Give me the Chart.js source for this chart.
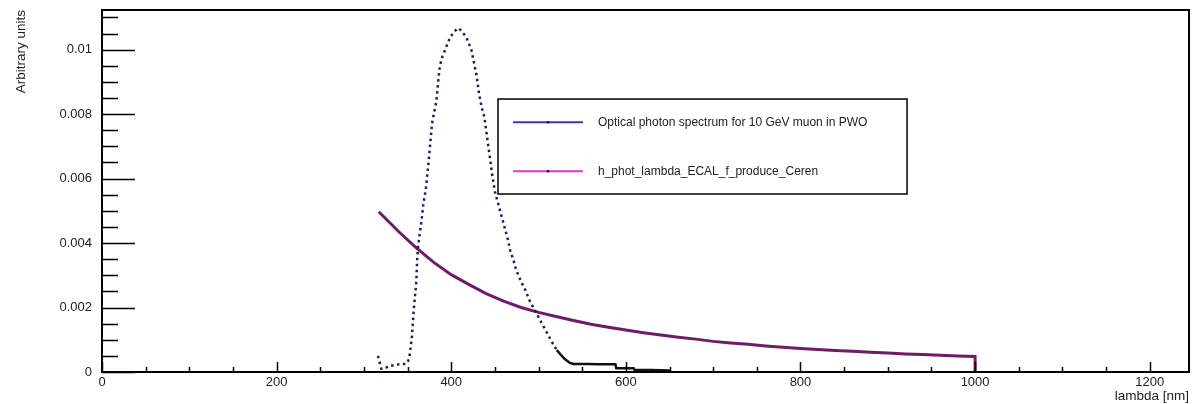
<!DOCTYPE html>
<html>
<head>
<meta charset="utf-8">
<title>Optical photon spectrum</title>
<script src="https://cdn.jsdelivr.net/npm/chart.js@4/dist/chart.umd.min.js"></script>
<style>
  html, body { margin: 0; padding: 0; background: #fff; }
  canvas { display: block; }
</style>
</head>
<body>
<canvas id="spectrum" width="1192" height="404"></canvas>
<script>
const spectrumLabel = `Optical photon spectrum for 10 GeV muon in PWO`;
const cerenLabel = `h_phot_lambda_ECAL_f_produce_Ceren`;

// scintillation spectrum (lambda in nm)
const spectrumLambda = [
  316, 320, 324, 328, 332, 336, 340, 344, 348, 350, 352, 355, 357, 359, 360, 361, 362, 364, 366, 368,
  371, 374, 376, 378, 380, 383, 385, 387, 390, 393, 396, 399, 402, 405, 408, 411, 414, 417, 420, 423,
  426, 429, 432, 435, 438, 441, 444, 447, 450, 453, 456, 459, 462, 465, 468, 471, 474, 477, 480, 484,
  487, 490, 494, 498, 502, 506, 510, 514, 518, 521, 525, 530, 536, 540, 548, 558, 568, 578, 588, 589,
  600, 609, 610, 630, 649, 650
];
const spectrumValue = [
  0.0005, 0.0001, 0.0001, 0.00018, 0.0002, 0.0002, 0.00024, 0.00025, 0.00025, 0.0003, 0.00045, 0.0011, 0.0019, 0.0025, 0.0028, 0.0035, 0.0039, 0.0043, 0.0047, 0.0052,
  0.0057, 0.0065, 0.0071, 0.0077, 0.0080, 0.0084, 0.0090, 0.0095, 0.0098, 0.0100, 0.0102, 0.0104, 0.0105, 0.0106, 0.01067, 0.0106, 0.0105, 0.0104, 0.0102, 0.0100,
  0.0096, 0.0092, 0.0086, 0.0082, 0.0079, 0.0073, 0.0067, 0.0061, 0.0056, 0.0053, 0.0050, 0.0047, 0.0044, 0.0041, 0.0037, 0.0035, 0.0032, 0.0030, 0.0028, 0.0026,
  0.0024, 0.0022, 0.0020, 0.0018, 0.0016, 0.0014, 0.0012, 0.0010, 0.0008, 0.00068, 0.00055, 0.0004, 0.00028, 0.00025, 0.00025, 0.00025, 0.00024, 0.00024, 0.00024, 0.00012,
  0.00012, 0.00012, 0.00006, 0.00006, 0.00005, 0
];

// Cherenkov spectrum
const cerenLambda = [
  317, 340, 360, 380, 400, 420, 440, 460, 480, 500, 520, 540, 560, 580, 600, 620, 640, 660,
  680, 700, 720, 740, 760, 780, 800, 820, 840, 860, 880, 900, 920, 940, 960, 980, 1000, 1000
];
const cerenValue = [
  0.00497, 0.00435, 0.00385, 0.00340, 0.00302, 0.00272, 0.00243, 0.00220, 0.00200, 0.00185, 0.00172, 0.00160, 0.00148, 0.00139, 0.00130, 0.00122, 0.00115, 0.00108,
  0.00102, 0.00095, 0.00090, 0.00086, 0.00081, 0.00077, 0.00073, 0.00070, 0.00067, 0.00064, 0.00061, 0.00059, 0.00056, 0.00054, 0.00052, 0.00050, 0.00048, 0
];

const xTickValues = [0, 200, 400, 600, 800, 1000, 1200];
const yTickValues = [0, 0.002, 0.004, 0.006, 0.008, 0.01];

const toPoints = (xs, ys) => xs.map((v, i) => ({x: v, y: ys[i]}));

const FONT = `"Liberation Sans", Arial, Helvetica, sans-serif`;

// ROOT style: inward ticks, full frame and boxed legend
const rootFrame = {
  id: `rootFrame`,
  afterDraw(chart) {
    const {ctx, chartArea: area, scales: {x, y}} = chart;
    ctx.save();
    ctx.strokeStyle = `#000`;
    ctx.lineWidth = 1.5;
    ctx.beginPath();
    for (let i = 0; i * 50 <= x.max; i++) {
      const px = Math.round(x.getPixelForValue(i * 50)) + 0.5;
      const len = i % 4 === 0 ? 10 : 5;
      ctx.moveTo(px, area.bottom);
      ctx.lineTo(px, area.bottom - len);
    }
    for (let i = 0; i * 0.0005 <= y.max; i++) {
      const py = Math.round(y.getPixelForValue(i * 0.0005)) + 0.5;
      const len = i % 4 === 0 ? 33 : 16;
      ctx.moveTo(area.left, py);
      ctx.lineTo(area.left + len, py);
    }
    ctx.stroke();

    ctx.lineWidth = 2;
    ctx.strokeRect(area.left, area.top, area.width, area.height);

    // legend box
    const bx0 = area.left + area.width * 0.3643;
    const bx1 = area.left + area.width * 0.7406;
    const by0 = area.top + area.height * 0.2459;
    const by1 = area.top + area.height * 0.5083;
    ctx.lineWidth = 1.5;
    ctx.strokeRect(bx0, by0, bx1 - bx0, by1 - by0);

    const entries = [
      {label: chart.data.datasets[0].label, color: `#3a3aa6`, y: by0 + (by1 - by0) * 0.245},
      {label: chart.data.datasets[1].label, color: `#d838d0`, y: by0 + (by1 - by0) * 0.76}
    ];
    ctx.font = `12px ${FONT}`;
    ctx.textBaseline = `middle`;
    entries.forEach((e) => {
      ctx.strokeStyle = e.color;
      ctx.lineWidth = 2;
      ctx.beginPath();
      ctx.moveTo(bx0 + 15, e.y);
      ctx.lineTo(bx0 + 85, e.y);
      ctx.stroke();
      ctx.beginPath();
      ctx.fillStyle = `#111`;
      ctx.arc(bx0 + 50, e.y, 1.3, 0, Math.PI * 2);
      ctx.fill();
      ctx.fillStyle = `#222`;
      ctx.fillText(e.label, bx0 + 100, e.y + 0.5);
    });
    ctx.restore();
  }
};

// eslint-disable-next-line no-unused-vars
const spectrumChart = new Chart(document.getElementById(`spectrum`), {
  type: `line`,
  data: {
    datasets: [{
      label: spectrumLabel,
      data: toPoints(spectrumLambda, spectrumValue),
      borderColor: `#1e1e5c`,
      borderWidth: 2.5,
      borderDash: [2.5, 3.5],
      pointRadius: 0,
      tension: 0,
      segment: {
        borderDash: (c) => c.p0.parsed.x >= 521 ? [] : undefined,
        borderColor: (c) => c.p0.parsed.x >= 521 ? `#111` : undefined
      }
    }, {
      label: cerenLabel,
      data: toPoints(cerenLambda, cerenValue),
      borderColor: `#6e1c66`,
      borderWidth: 3,
      pointRadius: 0,
      tension: 0
    }]
  },
  options: {
    responsive: false,
    animation: false,
    devicePixelRatio: 1,
    layout: {padding: {top: 10, right: 3, left: 0, bottom: 0}},
    plugins: {
      legend: {display: false},
      tooltip: {enabled: false}
    },
    scales: {
      x: {
        type: `linear`,
        min: 0,
        max: 1245,
        afterBuildTicks: (scale) => { scale.ticks = xTickValues.map((v) => ({value: v})); },
        afterFit: (scale) => { scale.height = 32; scale.paddingLeft = 0; scale.paddingRight = 0; },
        grid: {display: false, drawTicks: false},
        border: {display: false},
        ticks: {
          padding: 3,
          color: `#222`,
          font: {family: FONT, size: 13},
          maxRotation: 0,
          autoSkip: false,
          callback: (v) => String(v)
        },
        title: {
          display: true,
          text: `lambda [nm]`,
          align: `end`,
          color: `#222`,
          font: {family: FONT, size: 13.5},
          padding: {top: 0, bottom: 0}
        }
      },
      y: {
        type: `linear`,
        min: 0,
        max: 0.01123,
        afterBuildTicks: (scale) => { scale.ticks = yTickValues.map((v) => ({value: v})); },
        afterFit: (scale) => { scale.width = 102; scale.paddingTop = 0; scale.paddingBottom = 0; },
        grid: {display: false, drawTicks: false},
        border: {display: false},
        ticks: {
          padding: 10,
          color: `#222`,
          font: {family: FONT, size: 13},
          autoSkip: false,
          callback: (v) => String(v)
        },
        title: {
          display: true,
          text: `Arbitrary units`,
          align: `end`,
          color: `#222`,
          font: {family: FONT, size: 13.5},
          padding: {top: 13, bottom: 0}
        }
      }
    }
  },
  plugins: [rootFrame]
});
</script>
</body>
</html>
